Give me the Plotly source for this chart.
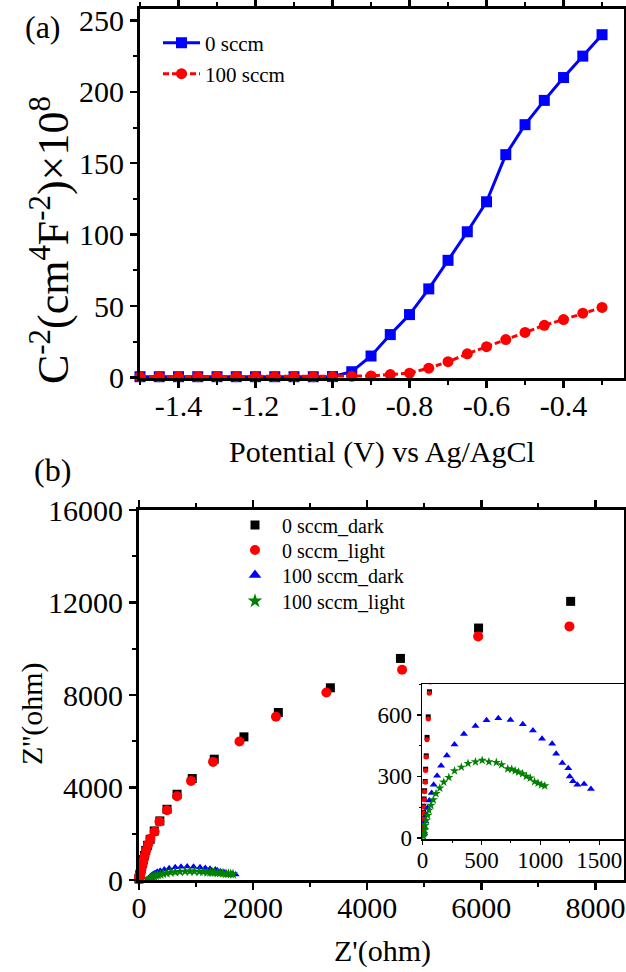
import plotly.graph_objects as go

# ---------------- Panel (a): Mott-Schottky ----------------
potential = [-1.50, -1.45, -1.40, -1.35, -1.30, -1.25, -1.20, -1.15, -1.10, -1.05,
             -1.00, -0.95, -0.90, -0.85, -0.80, -0.75, -0.70, -0.65, -0.60, -0.55,
             -0.50, -0.45, -0.40, -0.35, -0.30]
c2_0sccm = [0.5, 0.5, 0.5, 0.5, 0.5, 0.5, 0.5, 0.5, 0.5, 0.5,
            0.6, 4, 15, 30, 44, 62, 82, 102, 123, 156,
            177, 194, 210, 225, 240]
c2_100sccm = [0.5, 0.5, 0.5, 0.5, 0.5, 0.5, 0.5, 0.5, 0.5, 0.5,
              0.6, 0.8, 1, 2, 3, 6.5, 11, 16.5, 21.5, 26.5,
              31.5, 36.5, 40.5, 45, 49]
potential_tickvals = [-1.4, -1.2, -1.0, -0.8, -0.6, -0.4]
potential_ticktext = ["-1.4", "-1.2", "-1.0", "-0.8", "-0.6", "-0.4"]

# ---------------- Panel (b): Nyquist ----------------
zre_0_dark = [7565, 5951, 4582, 3354, 2442, 1839, 1319, 933, 667, 491, 365, 267, 196, 150,
              118, 95, 78, 66, 58, 48, 38, 31, 26, 22, 17, 13, 10, 8, 6, 3, 1]
zim_0_dark = [12049, 10895, 9582, 8312, 7244, 6190, 5224, 4387, 3709, 3059, 2554, 2121, 1760, 1500,
              1280, 1060, 880, 780, 712, 590, 490, 400, 335, 275, 230, 190, 155, 125, 97, 68, 42]
zre_0_light = [7544, 5944, 4611, 3284, 2400, 1761, 1298, 912, 667, 491, 358, 274, 200, 160,
               125, 100, 80, 66, 57, 49, 37, 31, 26, 23, 17, 14, 11, 9, 6, 3, 1]
zim_0_light = [10967, 10534, 9091, 8110, 7056, 5988, 5108, 4286, 3622, 3016, 2525, 2092, 1780, 1540,
               1290, 1050, 860, 760, 705, 579, 478, 394, 329, 271, 225, 186, 151, 122, 94, 65, 40]

# 100 sccm
zre_100_dark_main = [165, 168, 175, 183, 196, 212, 233, 252, 283, 320, 372, 443, 529, 635, 736,
                     844, 956, 1069, 1162, 1245, 1338, 1375, 1431, 1486, 1499, 1529, 1569, 1631, 1693]
zim_100_dark_main = [24, 49, 81, 113, 146, 182, 219, 259, 303, 352, 402, 455, 506, 546, 574,
                     583, 575, 554, 524, 483, 459, 410, 365, 340, 300, 276, 259, 263, 238]
zre_100_light_main = [178, 181, 189, 198, 209, 226, 242, 267, 295, 328, 374, 422, 484, 553, 635, 717,
                      807, 889, 970, 1060, 1125, 1199, 1248, 1289, 1329, 1379, 1423, 1472, 1525, 1566, 1608, 1648]
zim_100_light_main = [8, 21, 41, 62, 86, 110, 135, 159, 186, 216, 243, 272, 295, 327, 345, 363,
                      371, 378, 371, 368, 357, 337, 335, 327, 321, 313, 300, 292, 274, 267, 259, 254]

# 100 sccm
zre_100_dark_inset = [14, 17, 23, 31, 43, 57, 77, 94, 123, 157, 206, 271, 351, 449, 543,
                      643, 746, 851, 937, 1014, 1100, 1134, 1186, 1237, 1249, 1277, 1314, 1371, 1429]
zim_100_dark_inset = zim_100_dark_main
zre_100_light_inset = [9, 11, 17, 23, 31, 43, 54, 71, 91, 114, 146, 180, 223, 271, 329, 386,
                       449, 506, 563, 626, 671, 723, 757, 786, 814, 849, 880, 914, 951, 980, 1009, 1037]
zim_100_light_inset = zim_100_light_main

FONT = "Liberation Serif"
W, H = 626, 972

def px(x):
    return x / W

def py(y):
    return 1 - y / H

fig = go.Figure()

# Panel (a)
fig.add_trace(go.Scatter(x=potential, y=c2_0sccm, mode="lines+markers", name="0 sccm",
                         line=dict(color="#0000FF", width=3),
                         marker=dict(symbol="square", size=11, color="#0000FF"),
                         cliponaxis=False, xaxis="x", yaxis="y", legend="legend"))
fig.add_trace(go.Scatter(x=potential, y=c2_100sccm, mode="lines+markers", name="100 sccm",
                         line=dict(color="#FF0000", width=3, dash="6px,3px"),
                         marker=dict(symbol="circle", size=11, color="#FF0000"),
                         cliponaxis=False, xaxis="x", yaxis="y", legend="legend2"))

# Panel (b) main
fig.add_trace(go.Scatter(x=zre_100_dark_main, y=zim_100_dark_main, mode="markers", showlegend=False,
                         marker=dict(symbol="triangle-up", size=7, color="#0000FF"),
                         xaxis="x2", yaxis="y2"))
fig.add_trace(go.Scatter(x=zre_100_light_main, y=zim_100_light_main, mode="markers", showlegend=False,
                         marker=dict(symbol="star", size=8, color="#008000"),
                         xaxis="x2", yaxis="y2"))
fig.add_trace(go.Scatter(x=zre_0_dark, y=zim_0_dark, mode="markers", name="0 sccm_dark",
                         marker=dict(symbol="square", size=9, color="#000000"),
                         cliponaxis=False, xaxis="x2", yaxis="y2", legend="legend3"))
fig.add_trace(go.Scatter(x=zre_0_light, y=zim_0_light, mode="markers", name="0 sccm_light",
                         marker=dict(symbol="circle", size=10, color="#FF0000"),
                         cliponaxis=False, xaxis="x2", yaxis="y2", legend="legend4"))
fig.add_trace(go.Scatter(x=[None], y=[None], mode="markers", name="100 sccm_dark",
                         marker=dict(symbol="triangle-up", size=11, color="#0000FF"),
                         xaxis="x2", yaxis="y2", legend="legend5"))
fig.add_trace(go.Scatter(x=[None], y=[None], mode="markers", name="100 sccm_light",
                         marker=dict(symbol="star", size=11, color="#008000"),
                         xaxis="x2", yaxis="y2", legend="legend6"))

# Inset
fig.add_trace(go.Scatter(x=zre_0_dark, y=zim_0_dark, mode="markers", showlegend=False,
                         marker=dict(symbol="square", size=5, color="#000000"),
                         xaxis="x3", yaxis="y3"))
fig.add_trace(go.Scatter(x=zre_0_light, y=zim_0_light, mode="markers", showlegend=False,
                         marker=dict(symbol="circle", size=5, color="#FF0000"),
                         xaxis="x3", yaxis="y3"))
fig.add_trace(go.Scatter(x=zre_100_dark_inset, y=zim_100_dark_inset, mode="markers", showlegend=False,
                         marker=dict(symbol="triangle-up", size=7, color="#0000FF"),
                         xaxis="x3", yaxis="y3"))
fig.add_trace(go.Scatter(x=zre_100_light_inset, y=zim_100_light_inset, mode="markers", showlegend=False,
                         marker=dict(symbol="star", size=7, color="#008000"),
                         xaxis="x3", yaxis="y3"))

TICKSIZE = 30
axis_common = dict(showline=True, linecolor="black", linewidth=3, mirror="allticks",
                   ticks="outside", ticklen=7, tickwidth=2.5, tickcolor="black",
                   showgrid=False, zeroline=False, automargin=False,
                   exponentformat="none", separatethousands=False,
                   tickfont=dict(family=FONT, size=TICKSIZE, color="black"))
minor_common = dict(ticks="outside", ticklen=4, tickwidth=2, tickcolor="black", showgrid=False)
inset_common = dict(showline=True, linecolor="black", linewidth=1.5, mirror=True,
                    ticks="outside", ticklen=4, tickwidth=1.5, tickcolor="black",
                    showgrid=False, zeroline=False, automargin=False,
                    tickfont=dict(family=FONT, size=23, color="black"))
inset_minor = dict(ticks="outside", ticklen=2, tickwidth=1, tickcolor="black")

def leg(x, y, size, itemwidth):
    return dict(x=px(x), y=py(y), xanchor="left", yanchor="middle",
                bgcolor="rgba(0,0,0,0)", borderwidth=0,
                font=dict(family=FONT, size=size, color="black"), itemwidth=itemwidth)

fig.update_layout(
    template="none",
    width=W, height=H,
    margin=dict(l=0, r=0, t=0, b=0, autoexpand=False),
    paper_bgcolor="white", plot_bgcolor="white",
    font=dict(family=FONT, color="black"),
    hovermode=False,
    xaxis=dict(axis_common, domain=[px(140), px(624)], range=[-1.5, -0.243],
               tickvals=potential_tickvals, ticktext=potential_ticktext, ticklabelstandoff=-8,
               minor=dict(minor_common, dtick=0.1, tick0=-1.5), anchor="y"),
    yaxis=dict(axis_common, domain=[py(378), py(9)], range=[-0.4, 258],
               dtick=50, tick0=0, minor=dict(minor_common, dtick=25, tick0=0), anchor="x"),
    xaxis2=dict(axis_common, domain=[px(139), px(624)], range=[0, 8500], tickformat="d",
                ticklabelstandoff=-8,
                dtick=2000, tick0=0, minor=dict(minor_common, dtick=1000, tick0=0), anchor="y2"),
    yaxis2=dict(axis_common, domain=[py(880), py(510)], range=[0, 16000], tickformat="d",
                dtick=4000, tick0=0, minor=dict(minor_common, dtick=2000, tick0=0), anchor="x2"),
    xaxis3=dict(inset_common, range=[-5, 1710], tickvals=[0, 500, 1000, 1500], ticklabelstandoff=-4,
                minor=dict(inset_minor, dtick=250, tick0=0),
                domain=[px(422), px(624)], anchor="y3"),
    yaxis3=dict(inset_common, range=[-5, 750], tickvals=[0, 300, 600],
                minor=dict(inset_minor, dtick=150, tick0=0),
                domain=[py(839), py(684)], anchor="x3"),
    legend=leg(158, 43, 21, 37),
    legend2=leg(158, 74, 21, 37),
    legend3=leg(228, 525, 20, 44),
    legend4=leg(228, 550, 20, 44),
    legend5=leg(228, 575, 20, 44),
    legend6=leg(228, 601, 20, 44),
)

annotations = [
    dict(text="(a)", x=px(43), y=py(27), font=dict(size=32)),
    dict(text="(b)", x=px(52), y=py(470), font=dict(size=32)),
    dict(text="Potential (V) vs Ag/AgCl", x=px(382), y=py(452), font=dict(size=30)),
    dict(text="C<sup>-2</sup>(cm<sup>4</sup>F<sup>-2</sup>)×10<sup>8</sup>", x=px(50), y=py(240),
         textangle=-90, font=dict(size=44)),
    dict(text="Z'(ohm)", x=px(382), y=py(951), font=dict(size=30)),
    dict(text="Z''(ohm)", x=px(32), y=py(714), textangle=-90, font=dict(size=30)),
]
for a in annotations:
    a.update(xref="paper", yref="paper", showarrow=False, xanchor="center", yanchor="middle")
    a["font"].update(family=FONT, color="black")
fig.update_layout(annotations=annotations)

fig.write_html(
    "out.html",
    config={"displayModeBar": False, "staticPlot": True},
    post_script="document.body.style.margin='0px';document.body.style.padding='0px';"
                "document.documentElement.style.overflow='hidden';",
)
